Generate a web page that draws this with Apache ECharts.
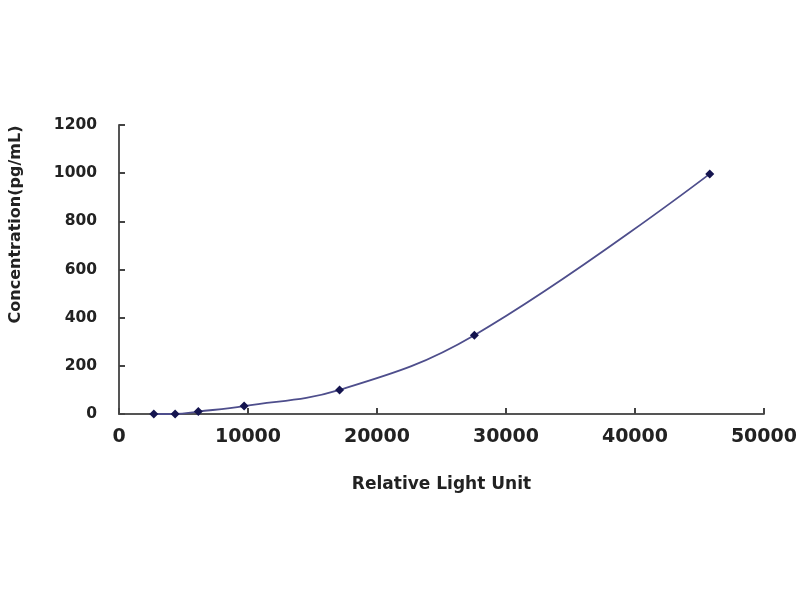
<!DOCTYPE html>
<html>
<head>
<meta charset="utf-8">
<script src="https://cdn.jsdelivr.net/npm/echarts@6/dist/echarts.min.js"></script>
<style>
  html, body { margin: 0; padding: 0; background: #fff; }
  #chart { width: 800px; height: 600px; }
</style>
</head>
<body>
<div id="chart"></div>
<script>
// standard curve points: relative light unit vs concentration
var rlu = [2700, 4350, 6150, 9700, 17100, 27550, 45800];
var conc = [0, 0, 10, 33, 100, 327, 997];

var xTicks = [0, 10000, 20000, 30000, 40000, 50000];
var yTicks = [0, 200, 400, 600, 800, 1000, 1200];

var points = [];
for (var i = 0; i < rlu.length; i++) {
    points.push([rlu[i], conc[i]]);
}

var chartDom = document.getElementById('chart');
var myChart = echarts.init(chartDom);
var option;

var axisFont = 'DejaVu Sans';

option = {
    animation: false,
    backgroundColor: '#fff',
    grid: {
        left: 115,
        right: 33,
        top: 125,
        bottom: 186
    },
    xAxis: {
        type: 'value',
        min: xTicks[0],
        max: xTicks[xTicks.length - 1],
        interval: 10000,
        name: 'Relative Light Unit',
        nameLocation: 'middle',
        nameGap: 62,
        nameTextStyle: { fontFamily: axisFont, fontWeight: 'bold', fontSize: 17, color: '#222' },
        splitLine: { show: false },
        axisLine: { lineStyle: { color: '#555', width: 2 } },
        axisTick: { show: true, inside: true, length: 6, lineStyle: { color: '#444', width: 2 } },
        axisLabel: {
            fontFamily: axisFont, fontWeight: 'bold', fontSize: 19, color: '#222', margin: 14,
            formatter: function (v) { return String(v); }
        }
    },
    yAxis: {
        type: 'value',
        min: yTicks[0],
        max: yTicks[yTicks.length - 1],
        interval: 200,
        name: 'Concentration(pg/mL)',
        nameLocation: 'middle',
        nameGap: 95,
        nameTextStyle: { fontFamily: axisFont, fontWeight: 'bold', fontSize: 16, color: '#222', padding: [0, 0, 0, 90] },
        splitLine: { show: false },
        axisLine: { show: true, lineStyle: { color: '#555', width: 2 } },
        axisTick: { show: true, inside: true, length: 6, lineStyle: { color: '#444', width: 2 } },
        axisLabel: {
            fontFamily: axisFont, fontWeight: 'bold', fontSize: 15.5, color: '#222', margin: 22,
            formatter: function (v) { return String(v); }
        }
    },
    series: [
        {
            type: 'line',
            data: points,
            smooth: 0.4,
            symbol: 'diamond',
            symbolSize: 9,
            itemStyle: { color: '#14144f' },
            lineStyle: { color: '#4e4e8c', width: 1.8 }
        }
    ]
};

option && myChart.setOption(option);
</script>
</body>
</html>
